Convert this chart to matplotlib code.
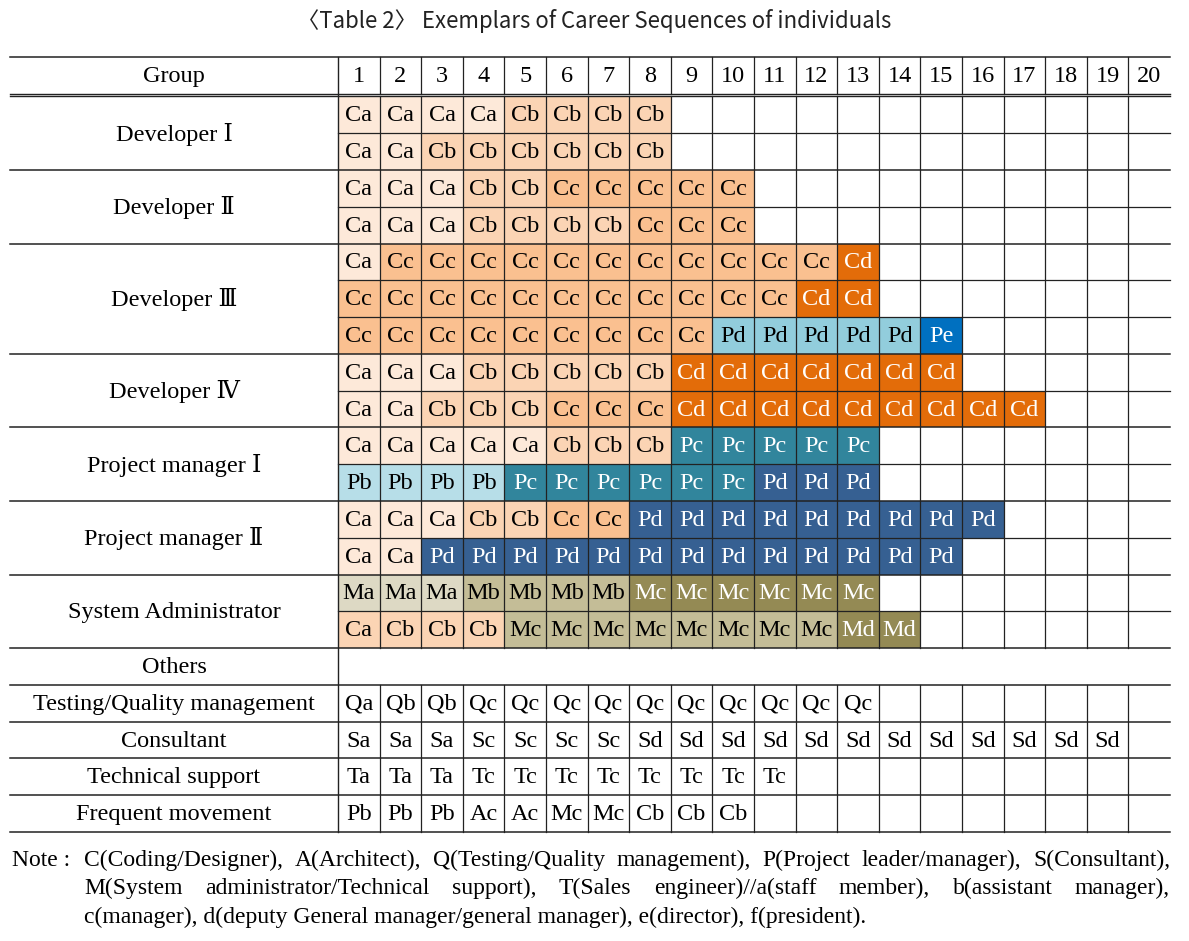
import matplotlib.pyplot as plt
from matplotlib.patches import Rectangle

# ---- data ----
title = "〈Table 2〉 Exemplars of Career Sequences of individuals"
years = [str(i) for i in range(1, 21)]

groups = ["Developer Ⅰ", "Developer Ⅱ", "Developer Ⅲ", "Developer Ⅳ",
          "Project manager Ⅰ", "Project manager Ⅱ", "System Administrator",
          "Others", "Testing/Quality management", "Consultant",
          "Technical support", "Frequent movement"]
group_rows = [2, 2, 3, 2, 2, 2, 2, 1, 1, 1, 1, 1]

sequences = [
    "Ca Ca Ca Ca Cb Cb Cb Cb",
    "Ca Ca Cb Cb Cb Cb Cb Cb",
    "Ca Ca Ca Cb Cb Cc Cc Cc Cc Cc",
    "Ca Ca Ca Cb Cb Cb Cb Cc Cc Cc",
    "Ca Cc Cc Cc Cc Cc Cc Cc Cc Cc Cc Cc Cd",
    "Cc Cc Cc Cc Cc Cc Cc Cc Cc Cc Cc Cd Cd",
    "Cc Cc Cc Cc Cc Cc Cc Cc Cc Pd Pd Pd Pd Pd Pe",
    "Ca Ca Ca Cb Cb Cb Cb Cb Cd Cd Cd Cd Cd Cd Cd",
    "Ca Ca Cb Cb Cb Cc Cc Cc Cd Cd Cd Cd Cd Cd Cd Cd Cd",
    "Ca Ca Ca Ca Ca Cb Cb Cb Pc Pc Pc Pc Pc",
    "Pb Pb Pb Pb Pc Pc Pc Pc Pc Pc Pd Pd Pd",
    "Ca Ca Ca Cb Cb Cc Cc Pd Pd Pd Pd Pd Pd Pd Pd Pd",
    "Ca Ca Pd Pd Pd Pd Pd Pd Pd Pd Pd Pd Pd Pd Pd",
    "Ma Ma Ma Mb Mb Mb Mb Mc Mc Mc Mc Mc Mc",
    "Ca Cb Cb Cb Mc Mc Mc Mc Mc Mc Mc Mc Md Md",
    "",
    "Qa Qb Qb Qc Qc Qc Qc Qc Qc Qc Qc Qc Qc",
    "Sa Sa Sa Sc Sc Sc Sc Sd Sd Sd Sd Sd Sd Sd Sd Sd Sd Sd Sd",
    "Ta Ta Ta Tc Tc Tc Tc Tc Tc Tc Tc",
    "Pb Pb Pb Ac Ac Mc Mc Cb Cb Cb",
]

# shade class of each cell (one char per cell, '-' = no fill)
shades = [
    "11112222",
    "11222222",
    "1112233333",
    "1112222333",
    "1333333333334",
    "3333333333344",
    "333333333llllle",
    "111222224444444",
    "11222333444444444",
    "11111222ttttt",
    "bbbbttttttddd",
    "1112233ddddddddd",
    "11ddddddddddddd",
    "mmmnnnnoooooo",
    "2222nnnnnnnnoo",
    "",
    "-------------",
    "-------------------",
    "-----------",
    "----------",
]

note_lines = [
    "C(Coding/Designer), A(Architect), Q(Testing/Quality management), P(Project leader/manager), S(Consultant),",
    "M(System administrator/Technical support), T(Sales engineer)//a(staff member), b(assistant manager),",
    "c(manager), d(deputy General manager/general manager), e(director), f(president).",
]

# ---- style ----
palette = {'1': '#FDE9D9', '2': '#FBD4B4', '3': '#FAC090', '4': '#E36C09',
           'b': '#B7DEE8', 'l': '#92CDDC', 't': '#31859C', 'd': '#366092',
           'e': '#0070C0', 'm': '#DDD9C4', 'n': '#C4BD97', 'o': '#948A54'}
dark = set("4tdeo")
serif = ['Liberation Serif', 'DejaVu Serif']
line_c = '#222222'
fs = 17.5

W, H = 1189, 941
x_left, x_val, col_w = 10, 338, 41.6
x_right = x_val + 20 * col_w
y_top, head_h = 57, 37
y0 = 96.5
row_h = (832 - y0) / len(sequences)

fig = plt.figure(figsize=(W / 100, H / 100), dpi=100)
ax = fig.add_axes([0, 0, 1, 1])
ax.set_xlim(0, W)
ax.set_ylim(H, 0)
ax.axis('off')

ax.text(W / 2, 21, title, ha='center', va='center', fontsize=16,
        family=['Liberation Sans Narrow', 'Noto Sans CJK KR', 'DejaVu Sans'],
        color='#222222')

# header
ax.text((x_left + x_val) / 2, y_top + head_h / 2 + 1, "Group", ha='center',
        va='center', fontsize=fs, family=serif)
for j, yr in enumerate(years):
    ax.text(x_val + (j + 0.5) * col_w, y_top + head_h / 2 + 1, yr, ha='center',
            va='center', fontsize=fs, family=serif)

# cells
for i, (seq, sh) in enumerate(zip(sequences, shades)):
    codes = seq.split()
    yt = y0 + i * row_h
    for j, code in enumerate(codes):
        k = sh[j]
        if k in palette:
            ax.add_patch(Rectangle((x_val + j * col_w, yt), col_w, row_h,
                                   facecolor=palette[k], edgecolor='none'))
        ax.text(x_val + (j + 0.5) * col_w, yt + row_h / 2 + 1, code,
                ha='center', va='center', fontsize=fs, family=serif,
                color='white' if k in dark else 'black')

# group labels and horizontal lines
r = 0
for g, n in zip(groups, group_rows):
    yt = y0 + r * row_h
    ax.text((x_left + x_val) / 2, yt + n * row_h / 2 + 1, g, ha='center',
            va='center', fontsize=fs, family=serif)
    for m in range(1, n):
        ax.plot([x_val, x_right], [yt + m * row_h] * 2, color=line_c, lw=0.9)
    ax.plot([x_left, x_right], [yt + n * row_h] * 2, color=line_c, lw=1.1)
    r += n

# header lines
ax.plot([x_left, x_right], [y_top, y_top], color=line_c, lw=1.1)
ax.plot([x_left, x_right], [y_top + head_h, y_top + head_h], color=line_c, lw=1.0)
ax.plot([x_left, x_right], [y0 - 0.5, y0 - 0.5], color=line_c, lw=1.0)

# vertical lines
y_bottom = y0 + len(sequences) * row_h
others_i = sequences.index("")
ax.plot([x_val, x_val], [y_top, y_bottom], color=line_c, lw=1.0)
for j in range(1, 20):
    x = x_val + j * col_w
    ax.plot([x, x], [y_top, y_top + head_h], color=line_c, lw=0.9)
    ax.plot([x, x], [y0, y0 + others_i * row_h], color=line_c, lw=0.9)
    ax.plot([x, x], [y0 + (others_i + 1) * row_h, y_bottom], color=line_c, lw=0.9)

# note (first two lines justified to the table width)
nfs = 17
ax.text(12, 860, "Note :", ha='left', va='center', fontsize=nfs, family=serif)
renderer = fig.canvas.get_renderer()
for n, line in enumerate(note_lines):
    y = 860 + n * 28.5
    if n == len(note_lines) - 1:
        ax.text(84, y, line, ha='left', va='center', fontsize=nfs, family=serif)
        continue
    words = line.split(" ")
    items = [ax.text(0, y, w, ha='left', va='center', fontsize=nfs, family=serif)
             for w in words]
    widths = [t.get_window_extent(renderer).width for t in items]
    gap = (x_right - 84 - sum(widths)) / (len(words) - 1)
    x = 84
    for t, w in zip(items, widths):
        t.set_x(x)
        x += w + gap

fig.savefig("out.png", dpi=100)
